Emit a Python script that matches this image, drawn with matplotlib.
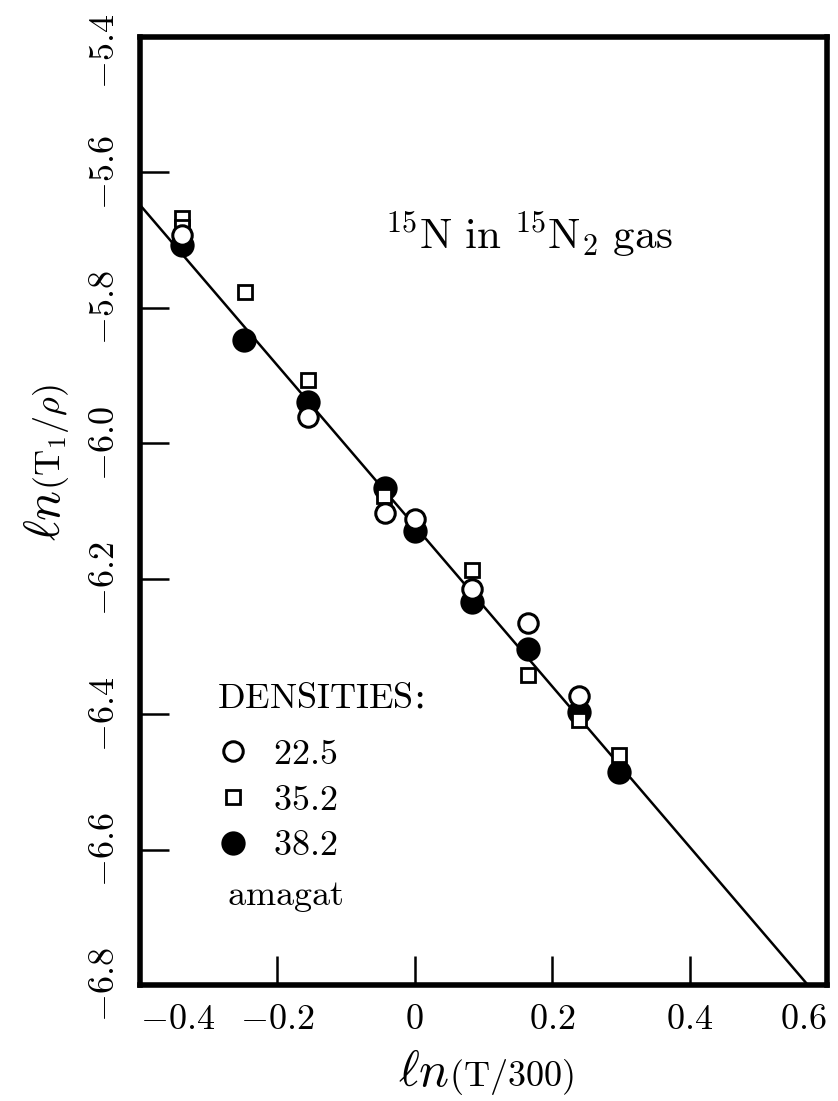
# -*- coding: utf-8 -*-

import matplotlib
matplotlib.use("Agg")
from matplotlib import pyplot as plt
from matplotlib import transforms

plt.rcParams['mathtext.fontset'] = 'cm'
plt.rcParams['font.family'] = 'serif'

# dados: ln(T/300) e ln(T1/rho)
x_225 = [-0.339, -0.155, -0.043, 0.000, 0.083, 0.165, 0.239]
y_225 = [-5.692, -5.961, -6.103, -6.112, -6.215, -6.266, -6.373]

x_352 = [-0.339, -0.339, -0.247, -0.155, -0.045, 0.083, 0.165, 0.239, 0.297]
y_352 = [-5.667, -5.681, -5.777, -5.907, -6.078, -6.187, -6.342, -6.409, -6.461]

x_382 = [-0.339, -0.249, -0.155, -0.043, 0.000, 0.083, 0.165, 0.239, 0.297]
y_382 = [-5.707, -5.848, -5.939, -6.066, -6.130, -6.235, -6.304, -6.397, -6.486]

# reta ajustada: y = a + b*x
fit_a = -6.122
fit_b = -1.185
fit_x = [-0.4, 0.6]

xticks = [-0.4, -0.2, 0.0, 0.2, 0.4, 0.6]
xtick_labels = ['-0.4', '-0.2', '0', '0.2', '0.4', '0.6']
yticks = [-5.4, -5.6, -5.8, -6.0, -6.2, -6.4, -6.6, -6.8]
ytick_labels = ['-5.4', '-5.6', '-5.8', '-6.0', '-6.2', '-6.4', '-6.6', '-6.8']

W, H = 838, 1101
fig = plt.figure(figsize=(W / 100, H / 100), dpi=100)
ax = fig.add_axes([140 / W, (H - 985) / H, 687 / W, 948 / H])

ax.plot(fit_x, [fit_a + fit_b * v for v in fit_x], color='black', lw=1.8, zorder=2)

h3, = ax.plot(x_382, y_382, 'o', ms=15.5, mfc='black', mec='black', mew=2.0, zorder=3)
h2, = ax.plot(x_352, y_352, 's', ms=10.5, mfc='white', mec='black', mew=2.0, zorder=4)
h1, = ax.plot(x_225, y_225, 'o', ms=14.0, mfc='white', mec='black', mew=2.2, zorder=5)

ax.set_xlim(-0.4, 0.6)
ax.set_ylim(-6.8, -5.4)

ax.set_xticks(xticks)
ax.set_xticklabels(['$' + s + '$' for s in xtick_labels])
ax.set_yticks(yticks)
ax.set_yticklabels(['$' + s + '$' for s in ytick_labels], rotation=90, va='center')

ax.tick_params(direction='in', length=21, width=1.8, labelsize=26, top=False, right=False)
ax.tick_params(axis='x', pad=12)
ax.tick_params(axis='y', pad=14)
for sp in ax.spines.values():
    sp.set_linewidth(4)

xl = ax.get_xticklabels()
xl[0].set_ha('left')
xl[-1].set_ha('right')
yl = ax.get_yticklabels()
yl[0].set_transform(yl[0].get_transform() +
                    transforms.ScaledTranslation(0, -0.14, fig.dpi_scale_trans))

# rótulos dos eixos (ln maior)
fig.text(449 / W, 1 - 1086 / H, r'$\ell n$', fontsize=36, ha='right', va='baseline')
fig.text(449 / W, 1 - 1086 / H, r'$\mathrm{(T/300)}$', fontsize=26, ha='left', va='baseline')
fig.text(60 / W, 1 - 490 / H, r'$\ell n$', fontsize=36, ha='right', va='baseline',
         rotation=90, rotation_mode='anchor')
fig.text(60 / W, 1 - 490 / H, r'$\mathrm{(T_1/}\rho\mathrm{)}$', fontsize=26, ha='left',
         va='baseline', rotation=90, rotation_mode='anchor')

ax.text(0.357, 0.776, r'$^{15}\mathrm{N\ in\ }^{15}\mathrm{N}_2\ \mathrm{gas}$',
        transform=ax.transAxes, fontsize=31, ha='left', va='baseline')

ax.text(0.112, (985 - 708) / 948, r'$\mathrm{DENSITIES}$:', transform=ax.transAxes,
        fontsize=26, ha='left', va='baseline')
leg = ax.legend([h1, h2, h3], ['$22.5$', '$35.2$', '$38.2$'], loc='upper left',
                bbox_to_anchor=(0.083, (985 - 719) / 948), frameon=False, fontsize=26,
                handlelength=1.0, handletextpad=0.6, labelspacing=0.32, borderpad=0)
ax.text(0.127, (985 - 905) / 948, r'$\mathrm{amagat}$', transform=ax.transAxes,
        fontsize=26, ha='left', va='baseline')

plt.savefig('out.png', dpi=100)
